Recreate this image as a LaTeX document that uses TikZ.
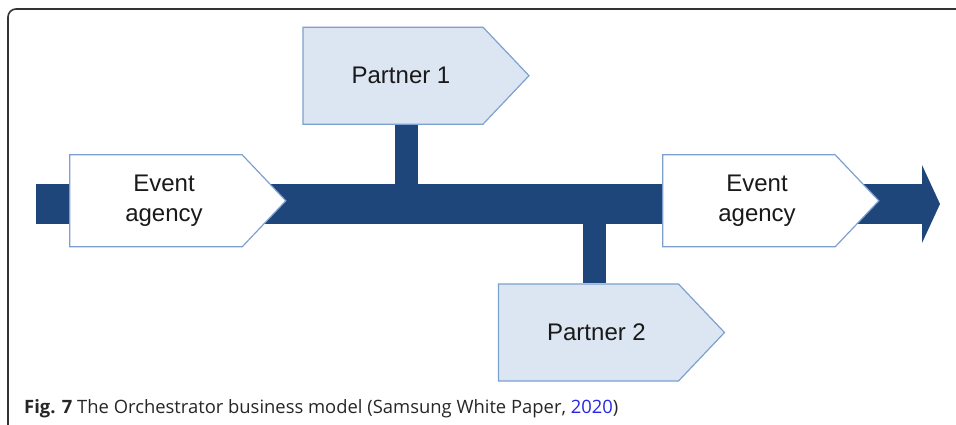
\documentclass[tikz,border=0pt]{standalone}
\usepackage{fontspec}
\setmainfont{Liberation Sans}
\newfontfamily\capfont{Open Sans}
\usetikzlibrary{shapes.symbols,arrows.meta,backgrounds}
\definecolor{barblue}{RGB}{31,70,122}
\definecolor{boxfill}{RGB}{220,230,242}
\definecolor{boxline}{RGB}{126,160,208}
\definecolor{linkblue}{RGB}{38,38,230}
\tikzset{
  box/.style={signal, signal to=east, signal pointer angle=93, draw=boxline,
    line width=1.2pt, inner sep=0pt},
  boxtext/.style={align=center, text=black!90, xshift=8pt,
    font=\fontsize{24}{30}\selectfont},
  partner/.style={box, fill=boxfill, minimum width=226pt, minimum height=97pt},
  agency/.style={box, fill=white, minimum width=216pt, minimum height=92pt},
  flow/.style={draw=barblue, line width=40pt,
    -{Triangle[length=18pt,width=78pt,line width=0pt]}},
  stem/.style={draw=barblue, line width=23pt},
  frame/.style={draw=black!80, line width=1.6pt, rounded corners=8pt},
}
\begin{document}
\begin{tikzpicture}[x=1pt, y=-1pt]
\useasboundingbox (0,0) rectangle (956,425);
\draw[frame] (8,426) |- (957,9);
% boxes
\node[partner, label={[boxtext]center:Partner 1}] (p1) at (393,75.7) {};
\node[agency, label={[boxtext]center:Event\\agency}] (ea1) at (156,200.8) {};
\node[agency, label={[boxtext]center:Event\\agency}] (ea2) at (749,200.8) {};
\node[partner, label={[boxtext]center:Partner 2}] (p2) at (588.5,332.5) {};
% main flow and links
\coordinate (start) at (36,204);
\coordinate (end) at (940,204);
\coordinate (j1) at (406.5,204);
\coordinate (j2) at (594,204);
\begin{scope}[on background layer]
\draw[flow] (start) -- (end);
\draw[stem] (j1) -- (j1 |- p1.south);
\draw[stem] (j2) -- (j2 |- p2.north);
\end{scope}
\node[anchor=base west, inner sep=0pt, text=black!85,
  font=\capfont\fontsize{18.4}{22}\selectfont] (cap) at (24,413)
  {\textbf{Fig. 7} The Orchestrator business model (Samsung White Paper, \textcolor{linkblue}{2020})};
\end{tikzpicture}
\end{document}
